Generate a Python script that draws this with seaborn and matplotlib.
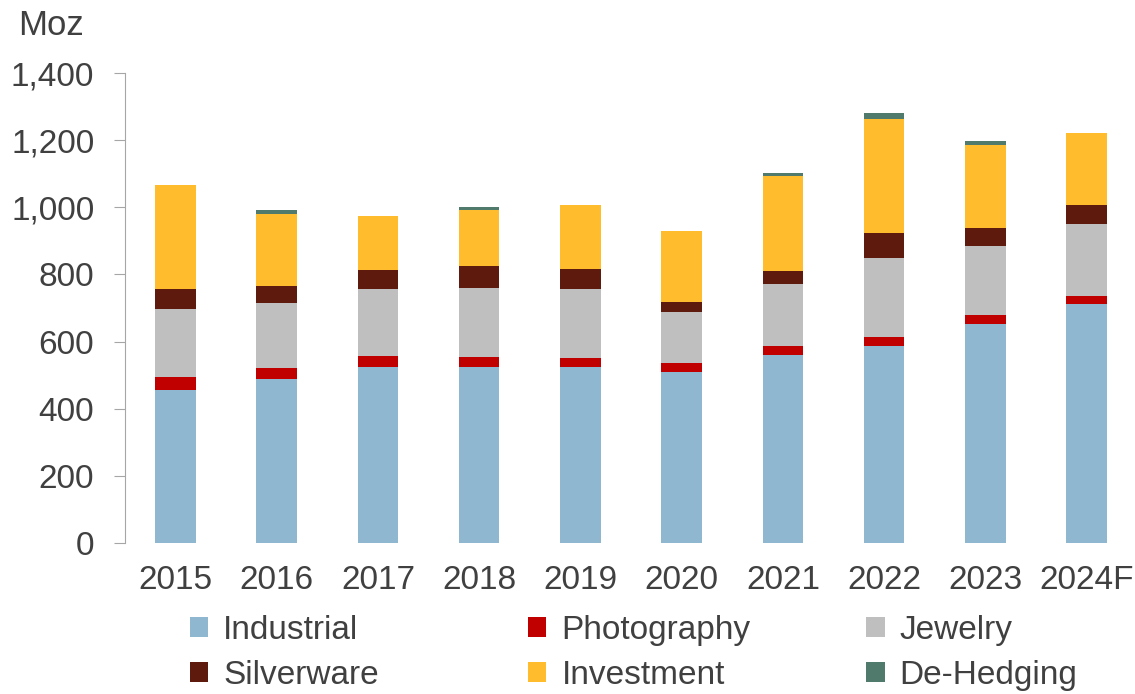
import matplotlib
matplotlib.use("Agg")
import matplotlib.pyplot as plt
import numpy as np
import pandas as pd
import seaborn as sns
from matplotlib.patches import Patch

years = ["2015", "2016", "2017", "2018", "2019", "2020", "2021", "2022", "2023", "2024F"]
industrial = [457, 489, 525, 523, 523, 509, 560, 588, 653, 711]
photography = [37, 32, 33, 30, 29, 26, 27, 26, 26, 25]
jewelry = [203, 193, 198, 208, 204, 152, 184, 236, 207, 213]
silverware = [60, 53, 57, 64, 60, 30, 38, 73, 53, 57]
investment = [309, 214, 160, 167, 190, 211, 285, 339, 246, 214]
dehedging = [0, 12, 2, 8, 0, 0, 8, 18, 13, 0]

series = ["Industrial", "Photography", "Jewelry", "Silverware", "Investment", "De-Hedging"]
colors = ["#8FB8D0", "#C00000", "#BFBFBF", "#5F1A0E", "#FFBC2C", "#507A6C"]

df = pd.DataFrame({
    "year": years,
    "Industrial": industrial,
    "Photography": photography,
    "Jewelry": jewelry,
    "Silverware": silverware,
    "Investment": investment,
    "De-Hedging": dehedging,
})
cum = df[series].cumsum(axis=1)

sns.set_style("white")
plt.rcParams["font.family"] = ["Liberation Sans", "DejaVu Sans"]
text_col = "#404040"

fig = plt.figure(figsize=(11.35, 6.94), dpi=100)
ax = fig.add_axes([0.110, 0.2176, 0.892, 0.6772])

# stacked bars: draw cumulative totals from the top layer down
for name, col in zip(series[::-1], colors[::-1]):
    sns.barplot(x=df["year"], y=cum[name], color=col, width=0.4,
                saturation=1, ax=ax, linewidth=0)

ax.set_ylim(0, 1400)
ax.set_xlim(-0.5, 9.5)
ax.set_yticks(np.arange(0, 1401, 200))
ax.set_yticklabels([f"{v:,}" for v in range(0, 1401, 200)])
ax.set_xlabel("")
ax.set_ylabel("")
for s in ["top", "right", "bottom"]:
    ax.spines[s].set_visible(False)
ax.spines["left"].set_color("#A6A6A6")
ax.tick_params(axis="y", left=True, length=8, color="#A6A6A6", labelsize=24,
               labelcolor=text_col, pad=14)
ax.tick_params(axis="x", bottom=False, labelsize=24, labelcolor=text_col, pad=12)

fig.text(0.016, 0.963, "Moz", fontsize=25, color=text_col, va="center")

# legend: three columns, two rows each
col_x = [0.1555, 0.4535, 0.7515]
for i in range(3):
    idx = [i, i + 3]
    handles = [Patch(facecolor=colors[j], edgecolor="none") for j in idx]
    fig.legend(handles, [series[j] for j in idx], loc="upper left",
               bbox_to_anchor=(col_x[i], 0.133), frameon=False, fontsize=24,
               handlelength=0.55, handleheight=0.55, handletextpad=0.45,
               labelspacing=0.42, labelcolor=text_col, borderaxespad=0)

fig.savefig("out.png", dpi=100)
